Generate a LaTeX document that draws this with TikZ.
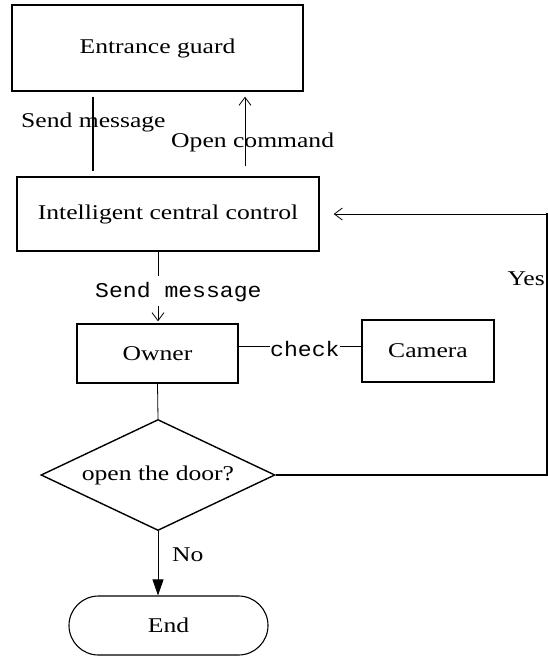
\documentclass[tikz,border=0pt]{standalone}
\usepackage{fontspec}
\setmainfont[FakeStretch=1.22]{Liberation Serif}
\newfontfamily\monof[FakeStretch=1.1]{Liberation Mono}
\usetikzlibrary{shapes.geometric,arrows.meta}
\begin{document}
\begin{tikzpicture}[x=1pt,y=-1pt,
  box/.style={draw,line width=1.4pt,inner sep=0pt,font=\fontsize{21}{24}\selectfont},
  txt/.style={inner sep=0pt,font=\fontsize{21}{24}\selectfont},
  mtxt/.style={inner sep=0pt,font=\monof\fontsize{21}{24}\selectfont},
  conn/.style={line width=0.8pt},
  barb/.style={-{Straight Barb[length=8pt,width=12pt,line width=0.8pt]}},
  tri/.style={-{Triangle[length=16pt,width=11pt]}}]
\useasboundingbox (0,0) rectangle (548,657);
% nodes
\node[box,minimum width=291pt,minimum height=86pt] (guard) at (157.5,48) {Entrance guard};
\node[box,minimum width=302pt,minimum height=74pt] (icc) at (168,214) {Intelligent central control};
\node[box,minimum width=161pt,minimum height=59pt] (owner) at (157.5,353.5) {Owner};
\node[box,minimum width=132pt,minimum height=62pt] (camera) at (428,351) {Camera};
\node[box,diamond,aspect=2.1,minimum width=234pt,minimum height=111pt] (dec) at (158,475) {open the door?};
\node[box,line width=1.1pt,rounded corners=29.5pt,minimum width=199pt,minimum height=59pt] (end) at (168.5,625.5) {End};
% labels
\node[txt,anchor=base west] (lsend) at (21,127) {Send message};
\node[txt,anchor=base west] (lopen) at (171,147) {Open command};
\node[mtxt,anchor=base west] (lmsg) at (95,297) {Send message};
\node[mtxt,anchor=base west] (chk) at (270,356) {check};
\node[txt,anchor=base east] (lyes) at (545,285) {Yes};
\node[txt,anchor=base west] (lno) at (172,561) {No};
% helper coordinates
\coordinate (x93) at (93,0);
\coordinate (x245) at (245,0);
\coordinate (c1) at (158,276);
\coordinate (c2) at (158,306);
\coordinate (cl) at (0,346);
\coordinate (yr) at (547,213);
% connectors
\draw[line width=1.6pt,shorten <=5pt,shorten >=5pt] (guard.south -| x93) -- (icc.north -| x93);
\draw[conn,barb,shorten <=10pt,shorten >=5pt] (icc.north -| x245) -- (guard.south -| x245);
\draw[conn] (icc.south -| c1) -- (c1);
\draw[conn,barb,shorten >=2pt] (c2) -- (owner.north -| c2);
\draw[conn] (owner.east |- cl) -- (chk.west |- cl);
\draw[conn] (chk.east |- cl) -- (camera.west |- cl);
\draw[conn] (owner.south) -- (dec.north);
\draw[conn,tri] (dec.south) -- (dec.south |- end.north);
\draw[line width=1.4pt] (dec.east) -| (yr);
\draw[conn,barb,shorten >=14pt] (yr) -- (icc.east -| yr) -- (icc.east);
\end{tikzpicture}
\end{document}
